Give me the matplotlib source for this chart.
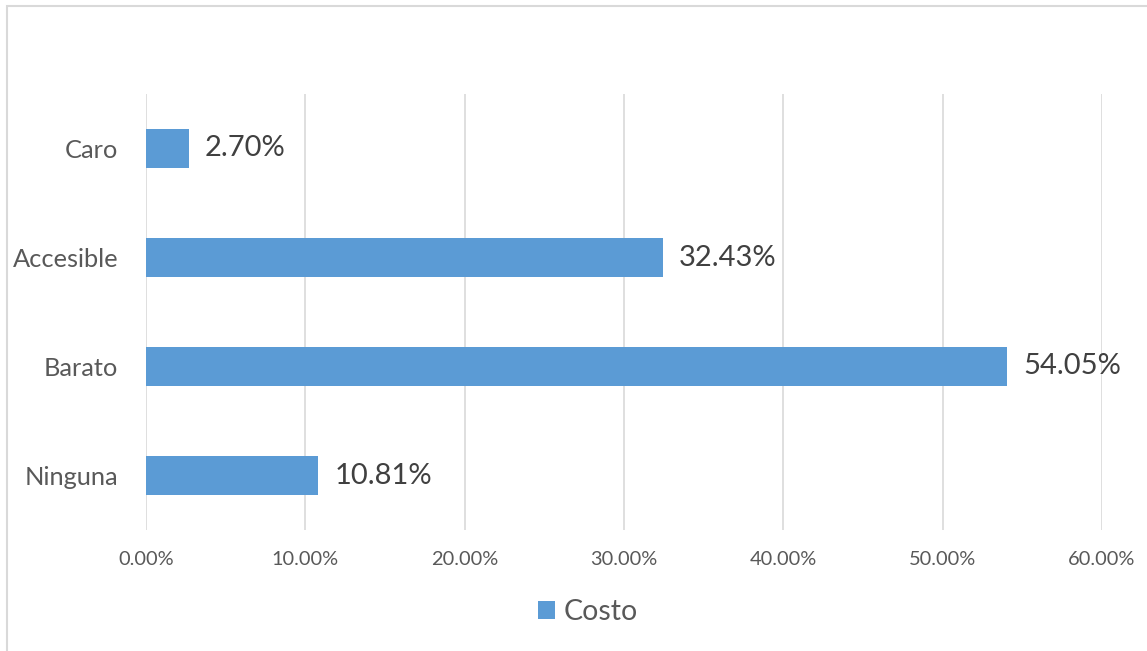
import matplotlib.pyplot as plt
from matplotlib.patches import Rectangle
from matplotlib.ticker import FuncFormatter

# donnees
categorias = ['Ninguna', 'Barato', 'Accesible', 'Caro']
valores = [10.81, 54.05, 32.43, 2.70]
serie = 'Costo'

azul = '#5B9BD5'
gris_txt = '#595959'
plt.rcParams['font.family'] = ['Lato', 'DejaVu Sans']

W, H = 1147, 651
fig = plt.figure(figsize=(W / 100, H / 100), dpi=100)
ax = fig.add_axes([146 / W, 1 - 530 / H, (1102 - 146) / W, (530 - 94) / H])

# cadre gris de la figure (coupe a droite et en bas)
fig.patches.append(Rectangle((7 / W, -0.1), 1.2, 1 - 6 / H + 0.1, transform=fig.transFigure,
                             fill=False, edgecolor='#D9D9D9', linewidth=1.5))

y = range(len(categorias))
barres = ax.barh(y, valores, height=0.35, color=azul, label=serie, zorder=3)
for yi, v in zip(y, valores):
    ax.text(v + 1.0, yi, f'{v:.2f}%', va='center', ha='left', fontsize=21, color='#404040')

ax.set_xlim(0, 60)
ax.set_ylim(-0.5, 3.5)
ax.set_xticks(range(0, 61, 10))
ax.xaxis.set_major_formatter(FuncFormatter(lambda x, p: f'{x:.2f}%'))
ax.set_yticks(list(y))
ax.set_yticklabels(categorias)
ax.tick_params(axis='x', length=0, pad=15, labelsize=14.4, labelcolor=gris_txt)
ax.tick_params(axis='y', length=0, pad=20, labelsize=18.3, labelcolor=gris_txt)
ax.grid(axis='x', color='#D9D9D9', linewidth=1.2, zorder=0)
for s in ax.spines.values():
    s.set_visible(False)

leg = fig.legend(handles=[barres], labels=[serie], loc='center', bbox_to_anchor=(588 / W, 1 - 612 / H),
                 frameon=False, fontsize=20.5, handlelength=0.6, handleheight=0.6, handletextpad=0.3)
for t in leg.get_texts():
    t.set_color(gris_txt)

fig.savefig('out.png', dpi=100)
